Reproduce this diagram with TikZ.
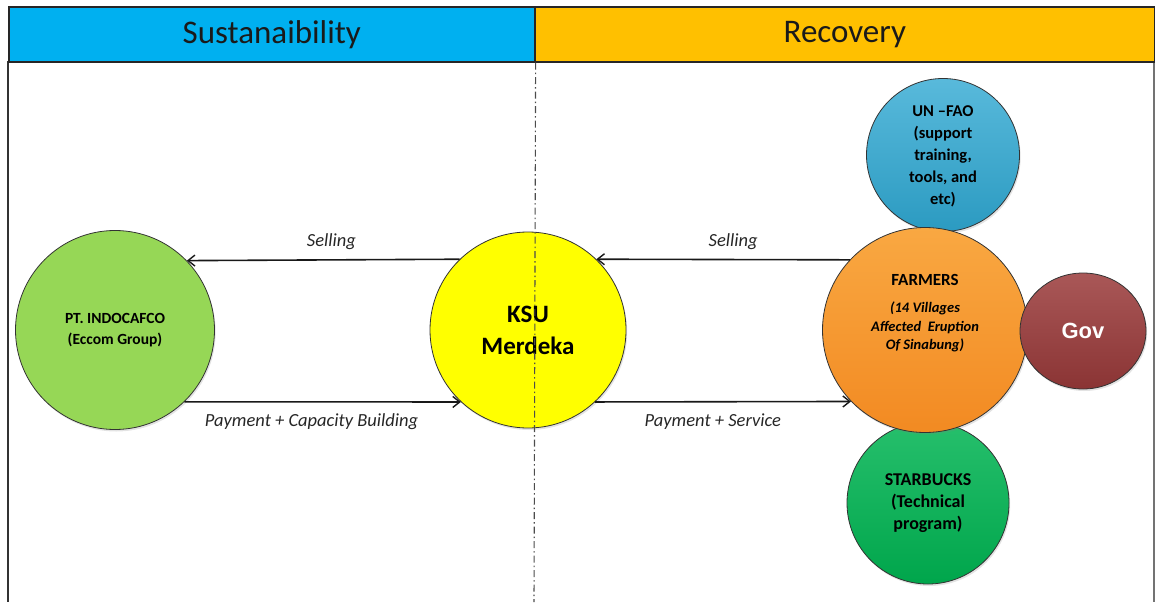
\documentclass[tikz,border=0pt]{standalone}
\usepackage{fontspec}
\setmainfont{Carlito}
\newfontfamily\govfont{Liberation Sans}
\usetikzlibrary{arrows.meta,shadows,shapes.geometric}

\definecolor{hdrblue}{HTML}{00B0F0}
\definecolor{hdrorange}{HTML}{FFC000}
\definecolor{indogreen}{HTML}{96D756}
\definecolor{ksuyellow}{HTML}{FFFF00}
\definecolor{farmtop}{HTML}{F9A842}
\definecolor{farmbottom}{HTML}{F28A22}
\definecolor{faoblue}{HTML}{2FA8D2}
\definecolor{sbgreen}{HTML}{00B452}
\definecolor{govred}{HTML}{9A3A3A}
\definecolor{hdrtext}{HTML}{1A1A1A}

\newcommand{\villagefont}{\fontsize{14.5}{18.5}\selectfont\bfseries\itshape}

\begin{document}
\begin{tikzpicture}[x=1pt,y=-1pt,
  header/.style={draw=black!85, line width=1.6pt, anchor=north west,
    minimum height=55pt, inner sep=0pt, text=hdrtext,
    font=\fontsize{33}{38}\selectfont},
  bubble/.style={circle, draw=black!80, line width=0.8pt, inner sep=0pt,
    align=center, text=black,
    drop shadow={opacity=0.22, shadow xshift=1.2pt, shadow yshift=-2pt}},
  flow/.style={line width=1.6pt, draw=black!90,
    -{Straight Barb[length=7pt,width=11pt,line width=1.4pt]}},
  flowlabel/.style={font=\fontsize{18.5}{21}\selectfont\itshape, text=black!85,
    inner sep=0pt}
]
\useasboundingbox (0,0) rectangle (1155,602);

% frame lines below the header
\draw[line width=2.6pt, black!80] (8,61) -- (8,602);
\draw[line width=1.2pt, black!55] (1154,61) -- (1154,602);

% header cells
\node[header, fill=hdrblue, minimum width=526pt] (sust) at (8,6) {Sustanaibility};
\node[header, fill=hdrorange, minimum width=620pt] (reco) at (534,6) {Recovery};

% partner circles
\node[bubble, fill=indogreen, minimum size=199pt,
  font=\fontsize{15.5}{21}\selectfont\bfseries] (indo) at (115,330)
  {PT. INDOCAFCO\\(Eccom Group)};

\node[bubble, fill=ksuyellow, minimum size=196pt,
  font=\fontsize{25}{32}\selectfont\bfseries] (ksu) at (528,330)
  {KSU\\Merdeka};

\node[bubble, top color=faoblue!80!white, bottom color=faoblue!92!black,
  minimum size=153pt,
  font=\fontsize{16.5}{22}\selectfont\bfseries] (fao) at (943,155)
  {\\[-8pt]UN –FAO\\(support\\training,\\tools, and\\etc)};

\node[bubble, top color=sbgreen!85!white, bottom color=sbgreen!92!black,
  minimum size=162pt,
  font=\fontsize{18}{22}\selectfont\bfseries] (sb) at (928,503)
  {STARBUCKS\\(Technical\\program)};

\node[bubble, top color=farmtop, bottom color=farmbottom,
  minimum size=205pt,
  font=\fontsize{17}{20}\selectfont\bfseries] (farm) at (925,330)
  {FARMERS\\[7pt]\villagefont (14 Villages\\[-1.5pt]\villagefont Affected\ \ Eruption\\[-1.5pt]\villagefont Of Sinabung)\\[16pt]\mbox{}};

\node[bubble, ellipse, top color=govred!85!white, bottom color=govred!90!black,
  minimum width=126pt, minimum height=116pt, text=white,
  font=\govfont\fontsize{22}{26}\selectfont\bfseries] (gov) at (1083,331) {Gov};

% divider between the two phases
\draw[line width=1.1pt, black!70, dash pattern=on 7pt off 3pt on 1.5pt off 3pt]
  (sust.south east) -- (534,602);

% flows
\draw[flow] (ksu.134) -- node[flowlabel, pos=0.47, above=9pt] {Selling} (indo.44);
\draw[flow] (indo.-46) -- node[flowlabel, pos=0.46, below=11pt] {Payment + Capacity Building} (ksu.227);
\draw[flow] (farm.137) -- node[flowlabel, pos=0.46, above=9pt] {Selling} (ksu.46);
\draw[flow] (ksu.-47) -- node[flowlabel, pos=0.46, below=11pt] {Payment + Service} (farm.224);

\end{tikzpicture}
\end{document}
